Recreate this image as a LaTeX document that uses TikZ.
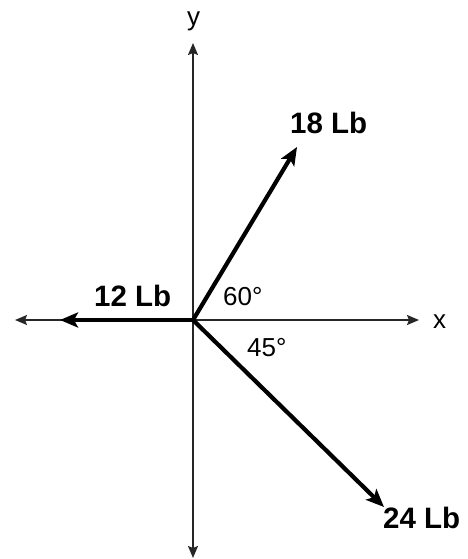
\documentclass[tikz,border=0pt]{standalone}
\usepackage{fontspec}
\setmainfont{Liberation Sans}
\usetikzlibrary{arrows.meta}
\begin{document}
\begin{tikzpicture}[x=1pt,y=-1pt,
  axisline/.style={line width=1.6pt,black!85,-{Stealth[length=12pt,width=10pt,inset=2pt]}},
  vecline/.style={line width=4.2pt,black,-{Stealth[length=18pt,width=15pt,inset=4pt]}},
  boldlbl/.style={inner sep=0pt,anchor=base west,font=\fontsize{29.5}{31}\selectfont\bfseries},
  plainlbl/.style={inner sep=0pt,anchor=base west,font=\fontsize{26}{28}\selectfont}]
\useasboundingbox (0,0) rectangle (467,559);
\coordinate (O) at (193,320);
\coordinate (xl) at (15,320);
\coordinate (xr) at (419,320);
\coordinate (yt) at (193,43);
\coordinate (yb) at (193,558);
\coordinate (t12) at (60,320);
\coordinate (t18) at (297,147);
\coordinate (t24) at (384,507);
\draw[axisline] (O) -- (xl);
\draw[axisline] (O) -- (xr);
\draw[axisline] (O) -- (yt);
\draw[axisline] (O) -- (yb);
\draw[vecline] (O) -- (t12);
\draw[vecline] (O) -- (t18);
\draw[vecline] (O) -- (t24);
\node[plainlbl] (lx) at (433,328) {x};
\node[plainlbl] (ly) at (187,26) {y};
\node[boldlbl] (l12) at (94,306) {12 Lb};
\node[boldlbl] (l18) at (290,133) {18 Lb};
\node[boldlbl] (l24) at (383,528) {24 Lb};
\node[plainlbl] (a60) at (223,305) {60°};
\node[plainlbl] (a45) at (247,356) {45°};
\end{tikzpicture}
\end{document}
